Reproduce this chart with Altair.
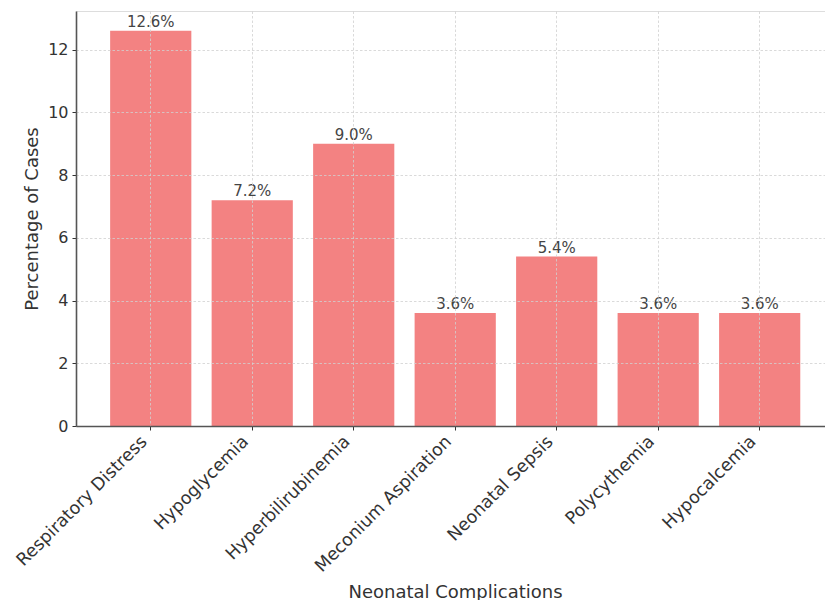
import altair as alt
import pandas as pd

categories = ["Respiratory Distress", "Hypoglycemia", "Hyperbilirubinemia",
              "Meconium Aspiration", "Neonatal Sepsis", "Polycythemia", "Hypocalcemia"]
values = [12.6, 7.2, 9.0, 3.6, 5.4, 3.6, 3.6]
labels = ["12.6%", "7.2%", "9.0%", "3.6%", "5.4%", "3.6%", "3.6%"]
y_ticks = [0, 2, 4, 6, 8, 10, 12]

df = pd.DataFrame({"cat": categories, "val": values, "lab": labels})

W, H = 749, 415
FONT = "DejaVu Sans"

x = alt.X("cat:N", sort=categories,
          scale=alt.Scale(paddingInner=0.2, paddingOuter=0.29, align=0.58),
          axis=alt.Axis(title="Neonatal Complications", labelAngle=-45, labelAlign="right",
                        labelBaseline="bottom", labelFontSize=17.5, labelColor="#333",
                        labelFont=FONT, labelPadding=15, labelLimit=400, tickSize=4,
                        tickColor="#333", domainColor="#555", domainWidth=1.6, grid=True,
                        gridColor="#d0d0d0", gridDash=[2.5, 2], gridWidth=0.8,
                        titleFont=FONT, titleFontSize=18, titleFontWeight="normal",
                        titleColor="#333", titleX=379, titleY=171,
                        titleBaseline="alphabetic", titleAnchor="middle", zindex=1))
y = alt.Y("val:Q", scale=alt.Scale(domain=[0, 13.23], nice=False, zero=True),
          axis=alt.Axis(title="Percentage of Cases", values=y_ticks, labelFontSize=16,
                        labelColor="#333", labelFont=FONT, labelPadding=4, tickSize=4,
                        tickColor="#333", domainColor="#555", domainWidth=1.6, grid=True,
                        gridColor="#d0d0d0", gridDash=[2.5, 2], gridWidth=0.8,
                        titleFont=FONT, titleFontSize=18, titleFontWeight="normal",
                        titleColor="#333", titleX=-44, titleY=H / 2,
                        titleBaseline="middle", titleAnchor="middle", zindex=1))

bars = alt.Chart(df).mark_bar(color="#F38282").encode(x=x, y=y)
text = alt.Chart(df).mark_text(baseline="bottom", dy=-1, fontSize=15, font=FONT,
                               color="#444").encode(
    x=alt.X("cat:N", sort=categories), y="val:Q", text="lab:N")

chart = (bars + text).properties(
    width=W, height=H,
    autosize=alt.AutoSizeParams(type="none"),
    padding={"left": 76, "top": 11, "right": 0, "bottom": 174},
).configure_view(stroke=None).configure(background="white")

chart.save("out.html", embed_options={"renderer": "svg", "actions": False})
